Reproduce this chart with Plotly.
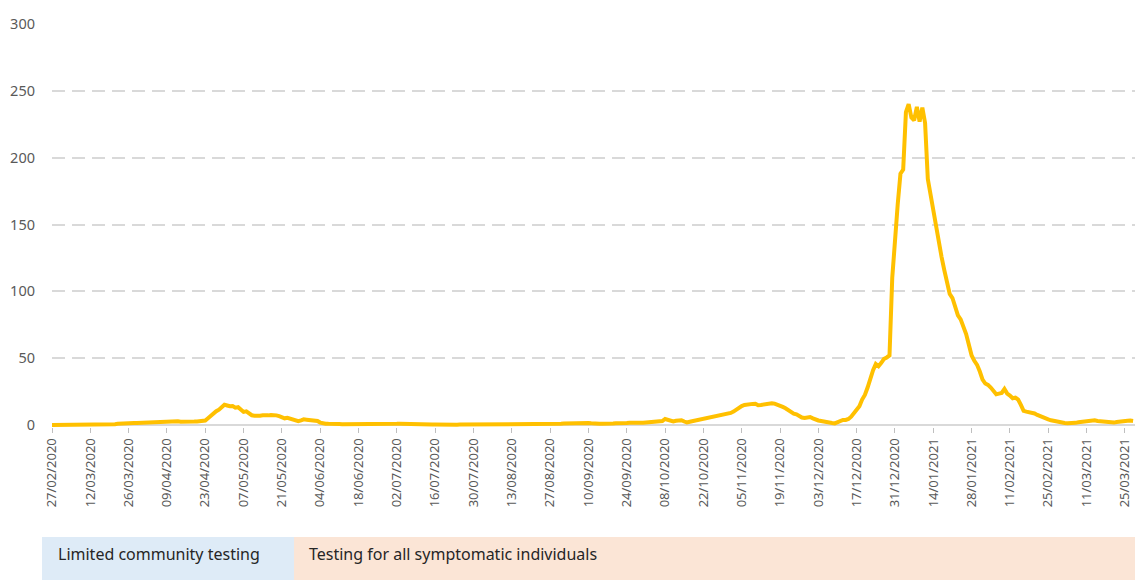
import pandas as pd
import plotly.graph_objects as go

start_date = "2020-02-27"

# daily values (one row per fortnight, starting at each tick date)
values = [
    0, 0, 0, 0, 0, 0, 0, 0, 0, 0, 0, 0, 0.1, 0.1,
    0.1, 0.1, 0.1, 0.1, 0.1, 0.2, 0.2, 0.2, 0.3, 0.6, 0.9, 1.1, 1.2, 1.3,
    1.4, 1.4, 1.5, 1.5, 1.6, 1.6, 1.7, 1.8, 1.9, 2.0, 2.2, 2.4, 2.6, 2.8,
    3.0, 3.1, 3.3, 3.2, 2.8, 2.5, 2.4, 2.6, 2.8, 2.7, 2.6, 2.7, 2.8, 3.0,
    3.3, 5.0, 7.0, 8.5, 10.3, 11.5, 13.0, 15.2, 14.6, 14.0, 14.2, 13.0, 13.3, 11.5,
    9.8, 10.2, 8.3, 7.3, 7.0, 6.8, 7.0, 7.3, 7.0, 7.2, 7.5, 7.7, 7.2, 6.6,
    5.6, 5.0, 5.4, 4.6, 3.8, 3.5, 2.8, 3.4, 4.2, 4.0, 3.9, 3.8, 3.4, 3.0,
    1.8, 1.2, 1.0, 0.9, 1.0, 0.8, 0.7, 0.7, 0.6, 0.6, 0.5, 0.6, 0.5, 0.5,
    0.5, 0.4, 0.4, 0.3, 0.3, 0.3, 0.3, 0.3, 0.2, 0.3, 0.3, 0.4, 0.5, 0.7,
    0.9, 1.0, 0.9, 0.8, 0.6, 0.4, 0.3, 0.3, 0.3, 0.2, 0.2, 0.2, 0.3, 0.3,
    0.3, 0.2, 0.2, 0.2, 0.2, 0.3, 0.3, 0.2, 0.2, 0.3, 0.3, 0.3, 0.3, 0.4,
    0.4, 0.4, 0.4, 0.5, 0.6, 0.7, 0.8, 0.8, 0.9, 0.9, 1.0, 0.9, 0.8, 0.7,
    0.6, 0.5, 0.4, 0.4, 0.3, 0.3, 0.4, 0.4, 0.5, 0.6, 0.6, 0.7, 0.8, 0.8,
    0.9, 0.8, 0.9, 1.0, 1.0, 1.1, 1.2, 1.2, 1.3, 1.4, 1.3, 1.2, 1.3, 1.4,
    1.5, 1.3, 1.0, 0.8, 0.9, 1.0, 0.9, 1.0, 1.1, 1.2, 1.3, 1.2, 1.3, 1.4,
    1.5, 1.6, 1.5, 1.6, 1.7, 1.8, 1.7, 1.9, 2.0, 1.9, 2.1, 2.2, 2.4, 3.0,
    4.5, 3.9, 3.1, 2.7, 3.2, 3.7, 3.6, 2.6, 1.9, 2.4, 2.8, 3.1, 3.8, 4.5,
    5.0, 5.3, 5.6, 6.0, 6.2, 6.5, 7.0, 7.5, 8.0, 8.4, 9.0, 10.0, 11.5, 13.2,
    14.2, 15.0, 15.5, 15.6, 15.8, 15.9, 14.8, 15.0, 15.4, 15.8, 16.0, 16.3, 16.0, 15.4,
    14.5, 13.5, 12.5, 11.0, 9.5, 8.5, 8.0, 6.6, 5.6, 5.2, 6.0, 6.0, 5.0, 4.0,
    3.4, 3.0, 2.8, 2.5, 2.0, 1.5, 1.2, 2.0, 3.5, 3.8, 3.8, 4.5, 6.2, 9.0,
    11.0, 14.0, 19.0, 22.5, 28.0, 36.0, 41.0, 45.7, 44.0, 46.5, 49.5, 50.5, 52.0, 110.0,
    140.0, 165.0, 188.0, 191.0, 234.0, 240.0, 230.0, 228.0, 238.0, 227.0, 237.5, 226.0, 184.0, 172.0,
    160.0, 147.0, 136.0, 126.0, 116.0, 106.0, 98.0, 95.0, 88.0, 82.0, 79.0, 74.0, 68.0, 60.0,
    52.0, 48.0, 45.0, 40.0, 34.0, 31.0, 30.0, 28.0, 25.0, 23.0, 23.5, 24.0, 27.0, 23.5,
    22.0, 20.0, 20.5, 19.0, 15.0, 10.6, 10.0, 9.6, 9.2, 8.6, 7.5, 6.5, 6.0, 5.0,
    4.2, 3.5, 3.0, 2.5, 2.0, 1.8, 1.5, 1.3, 1.2, 1.4, 1.6, 2.0, 2.3, 2.7,
    3.0, 3.4, 3.7, 3.5, 3.0, 2.8, 2.7, 2.2, 1.7, 1.6, 1.8, 2.2, 2.6, 2.9,
    3.2, 3.1, 3.3, 3.0,
]

tick_labels = [
    "27/02/2020", "12/03/2020", "26/03/2020", "09/04/2020", "23/04/2020",
    "07/05/2020", "21/05/2020", "04/06/2020", "18/06/2020", "02/07/2020",
    "16/07/2020", "30/07/2020", "13/08/2020", "27/08/2020", "10/09/2020",
    "24/09/2020", "08/10/2020", "22/10/2020", "05/11/2020", "19/11/2020",
    "03/12/2020", "17/12/2020", "31/12/2020", "14/01/2021", "28/01/2021",
    "11/02/2021", "25/02/2021", "11/03/2021", "25/03/2021",
]

y_ticks = [0, 50, 100, 150, 200, 250, 300]

phase_labels = ["Limited community testing", "Testing for all symptomatic individuals"]

dates = pd.date_range(start_date, periods=len(values), freq="D")
tick_dates = pd.to_datetime(tick_labels, format="%d/%m/%Y")

W, H = 1135, 580
ML, MR, MT, MB = 52, 0, 24, 153
plot_w = W - ML - MR
plot_h = H - MT - MB


def px_x(p):
    return (p - ML) / plot_w


def px_y(p):
    return (H - MB - p) / plot_h


fig = go.Figure()
fig.add_trace(go.Scatter(
    x=dates, y=values, mode="lines",
    line=dict(color="#FFC000", width=4),
    hoverinfo="x+y", showlegend=False,
))

x_end = pd.Timestamp(start_date) + pd.Timedelta(days=395.7)

fig.update_layout(
    width=W, height=H,
    margin=dict(l=ML, r=MR, t=MT, b=MB, autoexpand=False),
    paper_bgcolor="white", plot_bgcolor="white",
    font=dict(family="Noto Sans, Open Sans, sans-serif", color="#595959"),
    xaxis=dict(
        type="date",
        range=[pd.Timestamp(start_date), x_end],
        tickvals=tick_dates, ticktext=tick_labels,
        tickangle=-90,
        tickfont=dict(size=13, color="#595959"),
        ticks="outside", ticklen=5, tickwidth=1, tickcolor="#BFBFBF",
        showgrid=False, showline=False, zeroline=False,
    ),
    yaxis=dict(
        range=[-1.5, 300],
        tickvals=y_ticks,
        tickfont=dict(size=14.5, color="#595959"),
        showgrid=True, gridcolor="#D9D9D9", gridwidth=1.5, griddash="13px,7px",
        zeroline=True, zerolinecolor="#D9D9D9", zerolinewidth=1.5,
        showline=False, ticks="", ticklabelstandoff=16,
    ),
    shapes=[
        dict(type="rect", xref="paper", yref="paper",
             x0=px_x(42), x1=px_x(294), y0=px_y(537), y1=px_y(585),
             fillcolor="#DEEBF7", line=dict(width=0), layer="below"),
        dict(type="rect", xref="paper", yref="paper",
             x0=px_x(294), x1=px_x(1140), y0=px_y(537), y1=px_y(585),
             fillcolor="#FBE5D6", line=dict(width=0), layer="below"),
    ],
    annotations=[
        dict(text=phase_labels[0], xref="paper", yref="paper",
             x=px_x(56), y=px_y(554), xanchor="left", yanchor="middle",
             showarrow=False, font=dict(size=16, color="#262626")),
        dict(text=phase_labels[1], xref="paper", yref="paper",
             x=px_x(307), y=px_y(554), xanchor="left", yanchor="middle",
             showarrow=False, font=dict(size=16, color="#262626")),
    ],
)

fig.write_html(
    "out.html",
    config={"displayModeBar": False},
    post_script="document.body.style.margin='0';document.body.style.overflow='hidden';",
)
